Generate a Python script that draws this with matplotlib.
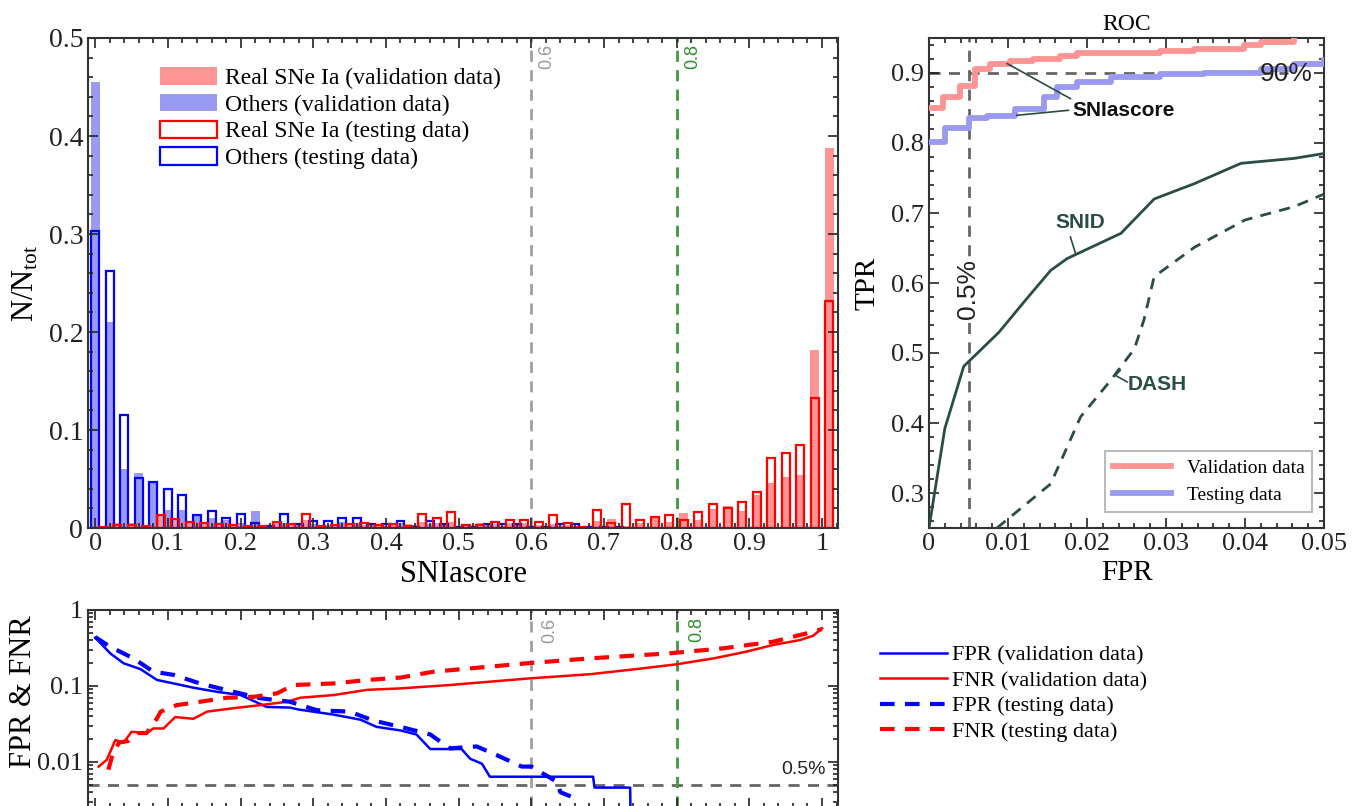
import numpy as np
import matplotlib
matplotlib.use('Agg')
import matplotlib.pyplot as plt
from matplotlib.patches import Patch
from matplotlib.ticker import MultipleLocator, FuncFormatter

plt.rcParams['font.family'] = 'Liberation Serif'
plt.rcParams['mathtext.fontset'] = 'custom'
plt.rcParams['mathtext.rm'] = 'Liberation Serif'
plt.rcParams['mathtext.it'] = 'Liberation Serif:italic'

# ---- histogram data (N/Ntot per SNIascore bin) ----
bins = np.round(np.arange(0, 1.001, 0.02), 2)
others_val = [0.455, 0.21, 0.06, 0.056, 0.046, 0.018, 0.018, 0.012, 0.010, 0.008,
              0.005, 0.017, 0.003, 0.005, 0.004, 0.004, 0.003, 0.006, 0.005, 0.003,
              0.002, 0.005, 0.003, 0.004, 0.003, 0.002, 0.001, 0.003, 0.002, 0.003,
              0.001, 0.001, 0.002, 0.002, 0.001, 0.001, 0.001, 0.0005, 0.0005, 0.0005,
              0.0005, 0.0005, 0.0005, 0.0005, 0.0005, 0.0005, 0.0005, 0.0005, 0.0005, 0.0005, 0.0005]
others_test = [0.303, 0.262, 0.115, 0.051, 0.047, 0.040, 0.034, 0.013, 0.017, 0.010,
               0.014, 0.005, 0.002, 0.014, 0.004, 0.007, 0.007, 0.010, 0.010, 0.004,
               0.004, 0.007, 0.001, 0.007, 0.004, 0.001, 0.001, 0.004, 0.004, 0.004,
               0.001, 0.001, 0.004, 0.004, 0.001, 0.001, 0.001, 0.0005, 0.0005, 0.0005,
               0.0005, 0.0005, 0.0005, 0.0005, 0.0005, 0.0005, 0.0005, 0.0005, 0.0005, 0.0005, 0.0005]
snia_val = [0.002, 0.005, 0.005, 0.002, 0.012, 0.008, 0.005, 0.005, 0.004, 0.003,
            0.002, 0.002, 0.005, 0.004, 0.008, 0.002, 0.003, 0.004, 0.003, 0.004,
            0.004, 0.004, 0.006, 0.005, 0.006, 0.003, 0.005, 0.004, 0.005, 0.005,
            0.003, 0.004, 0.003, 0.001, 0.007, 0.009, 0.002, 0.005, 0.010, 0.006,
            0.015, 0.008, 0.019, 0.022, 0.017, 0.034, 0.046, 0.052, 0.054, 0.182, 0.388]
snia_test = [0.001, 0.003, 0.003, 0.002, 0.013, 0.009, 0.006, 0.005, 0.004, 0.003,
             0.002, 0.002, 0.006, 0.004, 0.014, 0.002, 0.003, 0.004, 0.005, 0.003,
             0.004, 0.002, 0.014, 0.010, 0.016, 0.003, 0.003, 0.006, 0.008, 0.008,
             0.006, 0.013, 0.005, 0.001, 0.018, 0.005, 0.024, 0.008, 0.011, 0.013,
             0.008, 0.016, 0.024, 0.020, 0.027, 0.037, 0.071, 0.077, 0.085, 0.133, 0.232]

# ---- ROC data ----
roc_fpr_val = [0, 0.0018, 0.0039, 0.0058, 0.0077, 0.0103, 0.0132, 0.0166, 0.0187, 0.0293, 0.0335, 0.0399, 0.042, 0.0462]
roc_tpr_val = [0.85, 0.866, 0.882, 0.906, 0.913, 0.917, 0.920, 0.924, 0.928, 0.931, 0.935, 0.940, 0.945, 0.948]
roc_fpr_test = [0, 0.002, 0.005, 0.0073, 0.0109, 0.0145, 0.0162, 0.0187, 0.023, 0.0293, 0.0348, 0.042, 0.0462, 0.05]
roc_tpr_test = [0.802, 0.822, 0.836, 0.839, 0.849, 0.866, 0.88, 0.887, 0.894, 0.898, 0.9, 0.906, 0.913, 0.918]
snid_fpr = [0, 0.002, 0.0044, 0.0088, 0.0124, 0.0154, 0.0175, 0.0243, 0.0285, 0.0336, 0.0395, 0.0462, 0.05]
snid_tpr = [0.25, 0.392, 0.481, 0.529, 0.578, 0.618, 0.635, 0.671, 0.72, 0.742, 0.771, 0.778, 0.785]
dash_fpr = [0.0086, 0.0154, 0.0175, 0.0192, 0.023, 0.026, 0.0272, 0.0285, 0.0336, 0.04, 0.0462, 0.05]
dash_tpr = [0.25, 0.313, 0.366, 0.409, 0.461, 0.506, 0.547, 0.609, 0.651, 0.69, 0.709, 0.727]

# ---- FPR / FNR vs threshold ----
fpr_val_s = [0, 0.0206, 0.039, 0.062, 0.085, 0.108, 0.135, 0.167, 0.2, 0.236, 0.268, 0.28, 0.328, 0.365,
             0.387, 0.42, 0.442, 0.461, 0.504, 0.516, 0.532, 0.543, 0.685, 0.687, 0.736, 0.737]
fpr_val_v = [0.432, 0.269, 0.199, 0.167, 0.12, 0.108, 0.095, 0.084, 0.076, 0.053, 0.052, 0.049, 0.042, 0.036,
             0.029, 0.026, 0.023, 0.0148, 0.0148, 0.011, 0.0095, 0.0064, 0.0064, 0.0046, 0.0046, 0.001]
fpr_test_s = [0, 0.02, 0.053, 0.08, 0.108, 0.144, 0.19, 0.227, 0.268, 0.305, 0.35, 0.383, 0.42, 0.461,
              0.488, 0.525, 0.5525, 0.587, 0.6, 0.635, 0.64, 0.655, 0.66]
fpr_test_v = [0.44, 0.33, 0.23, 0.154, 0.14, 0.108, 0.084, 0.069, 0.062, 0.048, 0.046, 0.035, 0.029, 0.023,
              0.0151, 0.016, 0.0123, 0.0087, 0.0087, 0.0055, 0.004, 0.0035, 0.001]
fnr_val_s = [0.0046, 0.016, 0.0275, 0.039, 0.05, 0.0706, 0.08, 0.094, 0.11, 0.135, 0.154, 0.19, 0.227, 0.264,
             0.282, 0.328, 0.374, 0.42, 0.488, 0.598, 0.681, 0.745, 0.80, 0.851, 0.896, 0.933, 0.97, 0.988, 1.0]
fnr_val_v = [0.0087, 0.0107, 0.0194, 0.018, 0.025, 0.024, 0.0276, 0.0276, 0.039, 0.037, 0.046, 0.051, 0.056, 0.062,
             0.070, 0.076, 0.089, 0.093, 0.103, 0.126, 0.143, 0.167, 0.193, 0.231, 0.283, 0.347, 0.403, 0.459, 0.575]
fnr_test_s = [0.018, 0.025, 0.033, 0.046, 0.058, 0.0706, 0.085, 0.09, 0.112, 0.144, 0.181, 0.218, 0.25, 0.273,
              0.328, 0.374, 0.42, 0.465, 0.594, 0.681, 0.79, 0.864, 0.933, 0.979, 1.0]
fnr_test_v = [0.0079, 0.0137, 0.018, 0.019, 0.024, 0.024, 0.0376, 0.046, 0.056, 0.062, 0.070, 0.072, 0.080, 0.103,
              0.108, 0.12, 0.129, 0.154, 0.199, 0.231, 0.269, 0.313, 0.383, 0.493, 0.56]

RED_F = '#ff9494'
BLUE_F = '#9a9af2'
DKGREEN = '#2a4d45'
GRAY_TH = '#a0a0a0'
GREEN_TH = '#3d9a3d'
SANS = 'Liberation Sans'
DASHES = (0, (4, 3))


def style_axis(ax, size=19):
    ax.tick_params(which='both', direction='in', top=True, right=True, colors='#222222', width=1.2)
    ax.tick_params(which='major', length=7, labelsize=size)
    ax.tick_params(which='minor', length=3.5)
    for sp in ax.spines.values():
        sp.set_linewidth(1.5)
        sp.set_color('#333333')


g = lambda v, p: '%g' % v

fig = plt.figure(figsize=(13.69, 8.06), dpi=100)

# ---------------- histogram ----------------
ax1 = fig.add_axes([88/1369, 1-528/806, 750/1369, 490/806])
ax1.bar(bins, others_val, width=0.0125, color=BLUE_F, lw=0, zorder=1)
ax1.bar(bins + 0.01, snia_val, width=0.0125, color=RED_F, lw=0, zorder=1)
ax1.bar(bins, others_test, width=0.011, fill=False, edgecolor='blue', lw=1.6, zorder=1.2)
ax1.bar(bins + 0.01, snia_test, width=0.011, fill=False, edgecolor='red', lw=1.6, zorder=1.2)
ax1.axvline(0.6, color=GRAY_TH, ls=DASHES, lw=2, zorder=0.5)
ax1.axvline(0.8, color=GREEN_TH, ls=DASHES, lw=2, zorder=0.5)
ax1.text(0.621, 0.481, '0.6', rotation=90, ha='center', va='center', color='#999999', fontsize=13, family=SANS)
ax1.text(0.822, 0.481, '0.8', rotation=90, ha='center', va='center', color='#2e8f2e', fontsize=13, family=SANS)
ax1.set_xlim(-0.01, 1.022)
ax1.set_ylim(0, 0.5)
ax1.xaxis.set_major_locator(MultipleLocator(0.1))
ax1.xaxis.set_minor_locator(MultipleLocator(0.02))
ax1.yaxis.set_major_locator(MultipleLocator(0.1))
ax1.yaxis.set_minor_locator(MultipleLocator(0.02))
ax1.xaxis.set_major_formatter(FuncFormatter(g))
ax1.yaxis.set_major_formatter(FuncFormatter(g))
style_axis(ax1)
ax1.tick_params(axis='y', labelsize=20)
ax1.set_xlabel('SNIascore', fontsize=22, labelpad=4)
ax1.set_ylabel(r'N/N$_{\rm tot}$', fontsize=22, labelpad=6)
h1 = [Patch(facecolor=RED_F, edgecolor='none'), Patch(facecolor=BLUE_F, edgecolor='none'),
      Patch(facecolor='white', edgecolor='red', lw=1.6), Patch(facecolor='white', edgecolor='blue', lw=1.6)]
ax1.legend(h1, ['Real SNe Ia (validation data)', 'Others (validation data)',
                'Real SNe Ia (testing data)', 'Others (testing data)'],
           loc='upper left', bbox_to_anchor=(0.096, 0.94), frameon=False, fontsize=17,
           handlelength=2.4, handleheight=0.75, handletextpad=0.35, labelspacing=0.2,
           borderaxespad=0, borderpad=0)

# ---------------- ROC ----------------
ax2 = fig.add_axes([929/1369, 1-528/806, 395/1369, 490/806])
ax2.hlines(0.9, 0, 0.0455, color='#666666', ls=DASHES, lw=2, zorder=1)
ax2.axvline(0.005, color='#666666', ls=DASHES, lw=2, zorder=1)
ax2.text(0.0486, 0.899, '90%', ha='right', va='center', fontsize=19, family=SANS, color='#222222', zorder=5)
ax2.text(0.005, 0.592, '0.5%', rotation=90, ha='center', va='center', fontsize=19, family=SANS,
         color='#222222', zorder=2, bbox=dict(facecolor='white', edgecolor='none', pad=1))
ax2.plot(roc_fpr_val, roc_tpr_val, drawstyle='steps-post', color=RED_F, lw=4.2, zorder=3, label='Validation data')
ax2.plot(roc_fpr_test, roc_tpr_test, drawstyle='steps-post', color=BLUE_F, lw=4.2, zorder=3, label='Testing data')
ax2.plot(snid_fpr, snid_tpr, color=DKGREEN, lw=2, zorder=3)
ax2.plot(dash_fpr, dash_tpr, color=DKGREEN, lw=2, ls=DASHES, zorder=3)
ax2.text(0.01815, 0.8467, 'SNIascore', ha='left', va='center', fontsize=15, family=SANS,
         fontweight='bold', color='#111111', zorder=4)
ax2.plot([0.0179, 0.0099], [0.8634, 0.9134], color=DKGREEN, lw=1.2, zorder=4)
ax2.plot([0.01764, 0.01113], [0.8467, 0.8396], color=DKGREEN, lw=1.2, zorder=4)
ax2.text(0.0192, 0.6867, 'SNID', ha='center', va='center', fontsize=15, family=SANS,
         fontweight='bold', color=DKGREEN, zorder=4)
ax2.plot([0.0179, 0.01853], [0.6657, 0.643], color=DKGREEN, lw=1.2, zorder=4)
ax2.text(0.0251, 0.455, 'DASH', ha='left', va='center', fontsize=15, family=SANS,
         fontweight='bold', color=DKGREEN, zorder=4)
ax2.plot([0.02509, 0.0236, 0.0242], [0.4586, 0.468, 0.475], color=DKGREEN, lw=1.2, zorder=4)
ax2.set_xlim(0, 0.05)
ax2.set_ylim(0.25, 0.95)
ax2.xaxis.set_major_locator(MultipleLocator(0.01))
ax2.xaxis.set_minor_locator(MultipleLocator(0.002))
ax2.yaxis.set_major_locator(MultipleLocator(0.1))
ax2.yaxis.set_minor_locator(MultipleLocator(0.02))
ax2.xaxis.set_major_formatter(FuncFormatter(g))
ax2.yaxis.set_major_formatter(FuncFormatter(g))
style_axis(ax2)
ax2.set_title('ROC', fontsize=17, pad=6)
ax2.set_xlabel('FPR', fontsize=21, labelpad=4)
ax2.set_ylabel('TPR', fontsize=21, labelpad=8)
leg2 = ax2.legend(loc='lower right', bbox_to_anchor=(0.97, 0.033), fontsize=14, fancybox=False,
                  edgecolor='#bbbbbb', borderaxespad=0, handlelength=3, framealpha=1)
leg2.get_frame().set_linewidth(1.5)

# ---------------- FPR & FNR ----------------
ax3 = fig.add_axes([88/1369, 1-808/806, 750/1369, 198/806])
ax3.axhline(0.005, color='#666666', ls=DASHES, lw=2, zorder=1)
ax3.axvline(0.6, color=GRAY_TH, ls=DASHES, lw=2, zorder=1)
ax3.axvline(0.8, color=GREEN_TH, ls=DASHES, lw=2, zorder=1)
ax3.text(0.626, 0.546, '0.6', rotation=90, ha='center', va='center', color='#999999', fontsize=13, family=SANS)
ax3.text(0.827, 0.546, '0.8', rotation=90, ha='center', va='center', color='#2e8f2e', fontsize=13, family=SANS)
ax3.text(1.0055, 0.0079, '0.5%', ha='right', va='center', fontsize=14, family=SANS, color='#222222')
ax3.plot(fpr_val_s, fpr_val_v, color='blue', lw=1.8, label='FPR (validation data)', zorder=3)
ax3.plot(fnr_val_s, fnr_val_v, color='red', lw=1.8, label='FNR (validation data)', zorder=3)
ax3.plot(fpr_test_s, fpr_test_v, color='blue', lw=3, ls=(0, (3.5, 2.5)), label='FPR (testing data)', zorder=3)
ax3.plot(fnr_test_s, fnr_test_v, color='red', lw=3, ls=(0, (3.5, 2.5)), label='FNR (testing data)', zorder=3)
ax3.set_yscale('log')
ax3.set_xlim(-0.01, 1.022)
ax3.set_ylim(0.00248, 1)
ax3.set_yticks([0.01, 0.1, 1])
ax3.set_yticklabels(['0.01', '0.1', '1'])
ax3.xaxis.set_major_locator(MultipleLocator(0.1))
ax3.xaxis.set_minor_locator(MultipleLocator(0.02))
style_axis(ax3)
ax3.tick_params(labelsize=19, labelbottom=False)
ax3.set_ylabel('FPR & FNR', fontsize=22)
ax3.yaxis.set_label_coords(-0.066, 0.585)
fig.legend(*ax3.get_legend_handles_labels(), loc='upper left', bbox_to_anchor=(880/1369, 1-645/806),
           frameon=False, fontsize=16, handlelength=3.0, handletextpad=0.25, labelspacing=0.22,
           borderaxespad=0, borderpad=0)

fig.savefig('out.png', dpi=100)
